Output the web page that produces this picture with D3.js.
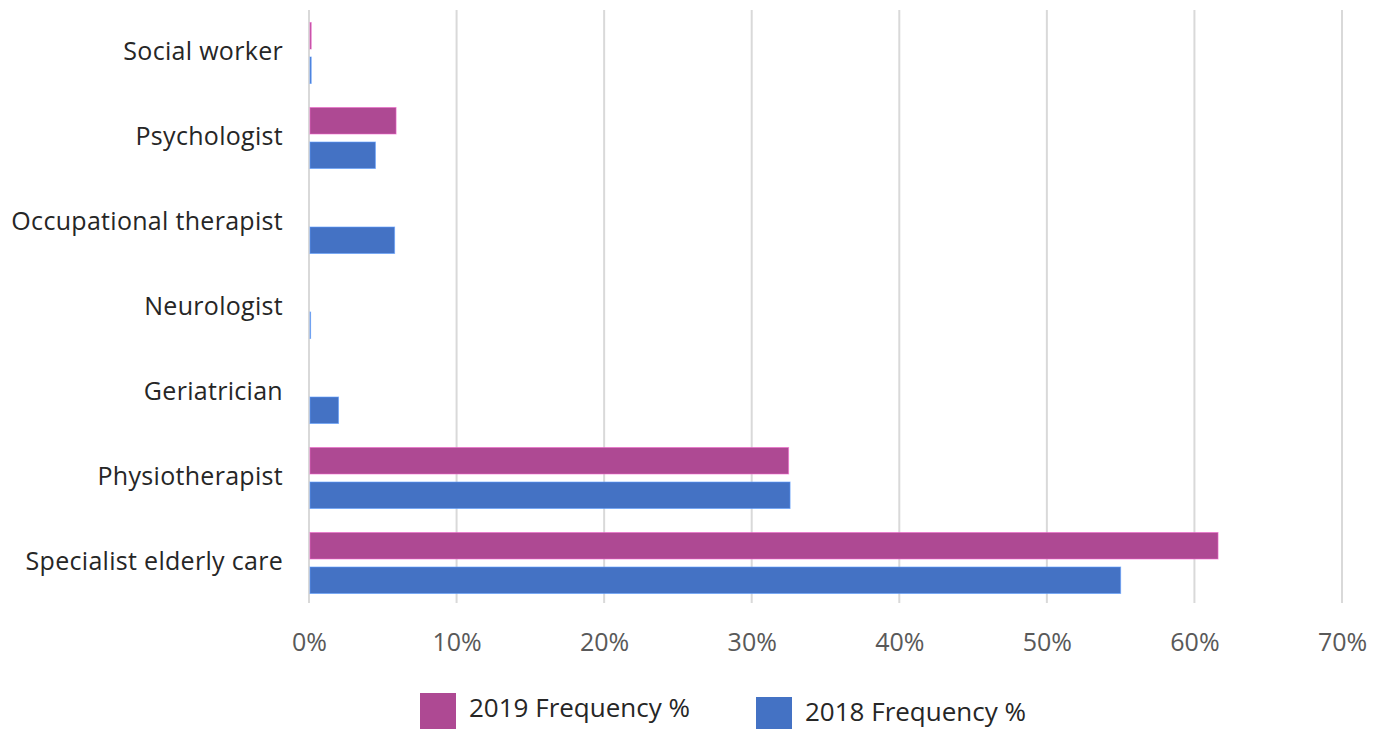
<!DOCTYPE html>
<html>
<head>
<meta charset="utf-8">
<script src="https://cdn.jsdelivr.net/npm/d3@7"></script>
<style>
  body { margin: 0; background: #fff; }
  svg text { font-family: "Open Sans", sans-serif; }
</style>
</head>
<body>
<div id="main"></div>
<script>
var width = 1385,
    height = 729;

// data, top to bottom
var categories = ["Social worker", "Psychologist", "Occupational therapist", "Neurologist",
                  "Geriatrician", "Physiotherapist", "Specialist elderly care"];
var freq2019 = [0.15, 5.9, 0, 0, 0, 32.5, 61.6];
var freq2018 = [0.15, 4.5, 5.8, 0.05, 2.0, 32.6, 55.0];
var seriesNames = ["2019 Frequency %", "2018 Frequency %"];
var seriesColors = ["#ae4993", "#4472c4"];
var xTicks = [0, 10, 20, 30, 40, 50, 60, 70];

var svg = d3.select("#main").append("svg")
    .attr("width", width)
    .attr("height", height);

var x = d3.scaleLinear().domain([0, 70]).range([309, 1342]);
var y0 = d3.scaleBand().domain(categories).range([10.5, 605.5]);
var y1 = d3.scaleBand().domain(seriesNames).range([12, 73]).paddingInner(0.232);

// gridlines
svg.append("g")
    .selectAll("line")
    .data(xTicks)
    .enter().append("line")
    .attr("x1", function(d) { return x(d); })
    .attr("x2", function(d) { return x(d); })
    .attr("y1", 10)
    .attr("y2", 603)
    .attr("stroke", "#d9d9d9")
    .attr("stroke-width", 2);

// tick labels
var xAxis = d3.axisBottom(x).tickValues(xTicks)
    .tickFormat(function(d) { return d + "%"; })
    .tickSize(0).tickPadding(0);
var gx = svg.append("g").attr("transform", "translate(0,633)").call(xAxis);
gx.select(".domain").remove();
gx.selectAll("text")
    .attr("fill", "#595959")
    .style("font-size", "25px")
    .style("font-family", "Open Sans");

// category labels
var yAxis = d3.axisLeft(y0).tickSize(0).tickPadding(0);
var gy = svg.append("g").attr("transform", "translate(283,-1)").call(yAxis);
gy.select(".domain").remove();
gy.selectAll("text")
    .attr("fill", "#262626")
    .style("font-size", "25px")
    .style("letter-spacing", "0.3px")
    .style("font-family", "Open Sans");

// bars
var rows = categories.map(function(c, i) {
    return {cat: c, vals: [freq2019[i], freq2018[i]]};
});

var groups = svg.selectAll(".cat")
    .data(rows)
    .enter().append("g")
    .attr("class", "cat")
    .attr("transform", function(d) { return "translate(0," + y0(d.cat) + ")"; });

groups.selectAll("rect")
    .data(function(d) {
        return d.vals.map(function(v, k) { return {name: seriesNames[k], v: v, k: k}; });
    })
    .enter().append("rect")
    .filter(function(d) { return d.v > 0; })
    .attr("x", x(0) + 1)
    .attr("y", function(d) { return y1(d.name); })
    .attr("width", function(d) { return Math.max(x(d.v) - x(0) - 1, 0.6); })
    .attr("height", y1.bandwidth())
    .attr("fill", function(d) { return seriesColors[d.k]; })
    .attr("stroke", function(d) { return d3.color(seriesColors[d.k]).brighter(0.9); })
    .attr("stroke-opacity", 0.6)
    .attr("stroke-width", 1);

// legend
var legendPos = [[420, 693, 469, 717], [756, 697, 805, 721]];
var legend = svg.selectAll(".legend")
    .data(seriesNames)
    .enter().append("g")
    .attr("class", "legend");

legend.append("rect")
    .attr("x", function(d, i) { return legendPos[i][0]; })
    .attr("y", function(d, i) { return legendPos[i][1]; })
    .attr("width", 36)
    .attr("height", 36)
    .attr("fill", function(d, i) { return seriesColors[i]; });

legend.append("text")
    .attr("x", function(d, i) { return legendPos[i][2]; })
    .attr("y", function(d, i) { return legendPos[i][3]; })
    .attr("fill", "#262626")
    .style("font-size", "26px")
    .text(function(d) { return d; });
</script>
</body>
</html>
